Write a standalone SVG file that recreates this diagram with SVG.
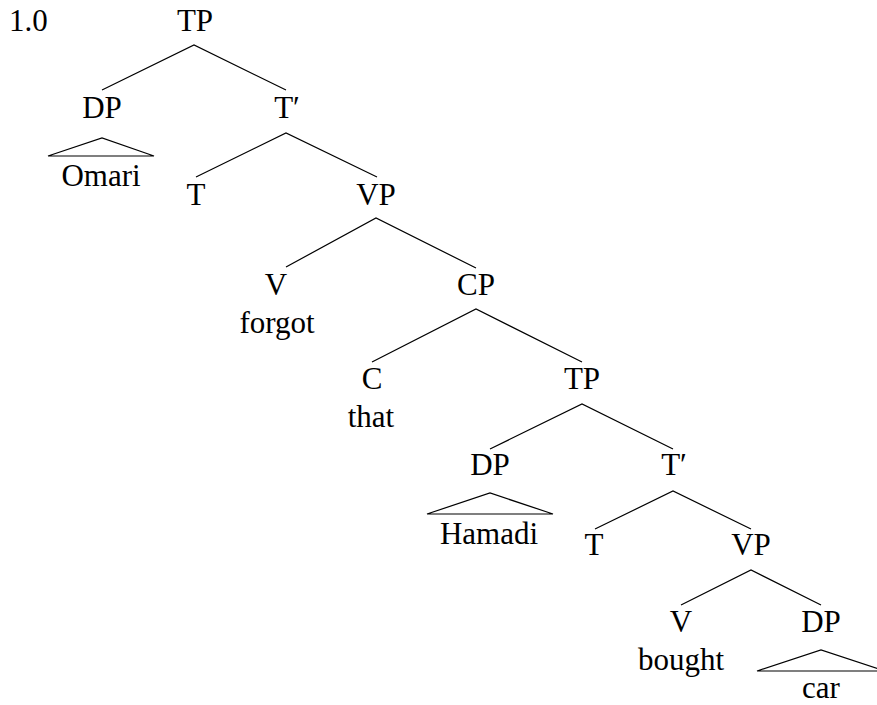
<svg xmlns="http://www.w3.org/2000/svg" width="877" height="705" viewBox="0 0 877 705">
<style>
text{font-family:"Liberation Serif","Times New Roman",serif;font-size:31px;fill:#000;text-anchor:middle}
.l{stroke:#000;stroke-width:1.2;fill:none}
</style>
<rect width="877" height="705" fill="#fff"/>
<text x="9" y="31" style="text-anchor:start">1.0</text>
<g id="connectors">
<path class="l" d="M102,90 L194,45 L286,90"/>
<path class="l" d="M196,177 L286,133 L377,177"/>
<path class="l" d="M286,267 L376,218 L476,268"/>
<path class="l" d="M372,362 L476,309 L582,362"/>
<path class="l" d="M490,449 L582,404 L673,449"/>
<path class="l" d="M595,529 L673,491 L751,529"/>
<path class="l" d="M681,605 L751,570 L821,605"/>
</g>
<g id="tp1"><text x="195" y="31">TP</text></g>
<g id="dp1"><text x="102" y="118">DP</text><path class="l" d="M48,156 L102,138 L154,156 Z"/><text x="101" y="186">Omari</text></g>
<g id="tbar1"><text x="287" y="118">T′</text></g>
<g id="t1"><text x="196" y="205">T</text></g>
<g id="vp1"><text x="376" y="205">VP</text></g>
<g id="v1"><text x="276" y="295">V</text><text x="277" y="333">forgot</text></g>
<g id="cp"><text x="476" y="295">CP</text></g>
<g id="c"><text x="372" y="389">C</text><text x="371" y="427">that</text></g>
<g id="tp2"><text x="582" y="389">TP</text></g>
<g id="dp2"><text x="490" y="475">DP</text><path class="l" d="M427,514 L490,493 L553,514 Z"/><text x="489" y="544">Hamadi</text></g>
<g id="tbar2"><text x="674" y="475">T′</text></g>
<g id="t2"><text x="594" y="555">T</text></g>
<g id="vp2"><text x="751" y="555">VP</text></g>
<g id="v2"><text x="681" y="632">V</text><text x="681" y="670">bought</text></g>
<g id="dp3"><text x="821" y="632">DP</text><path class="l" d="M757,671 L821,650 L885,671 Z"/><text x="821" y="698">car</text></g>
</svg>
